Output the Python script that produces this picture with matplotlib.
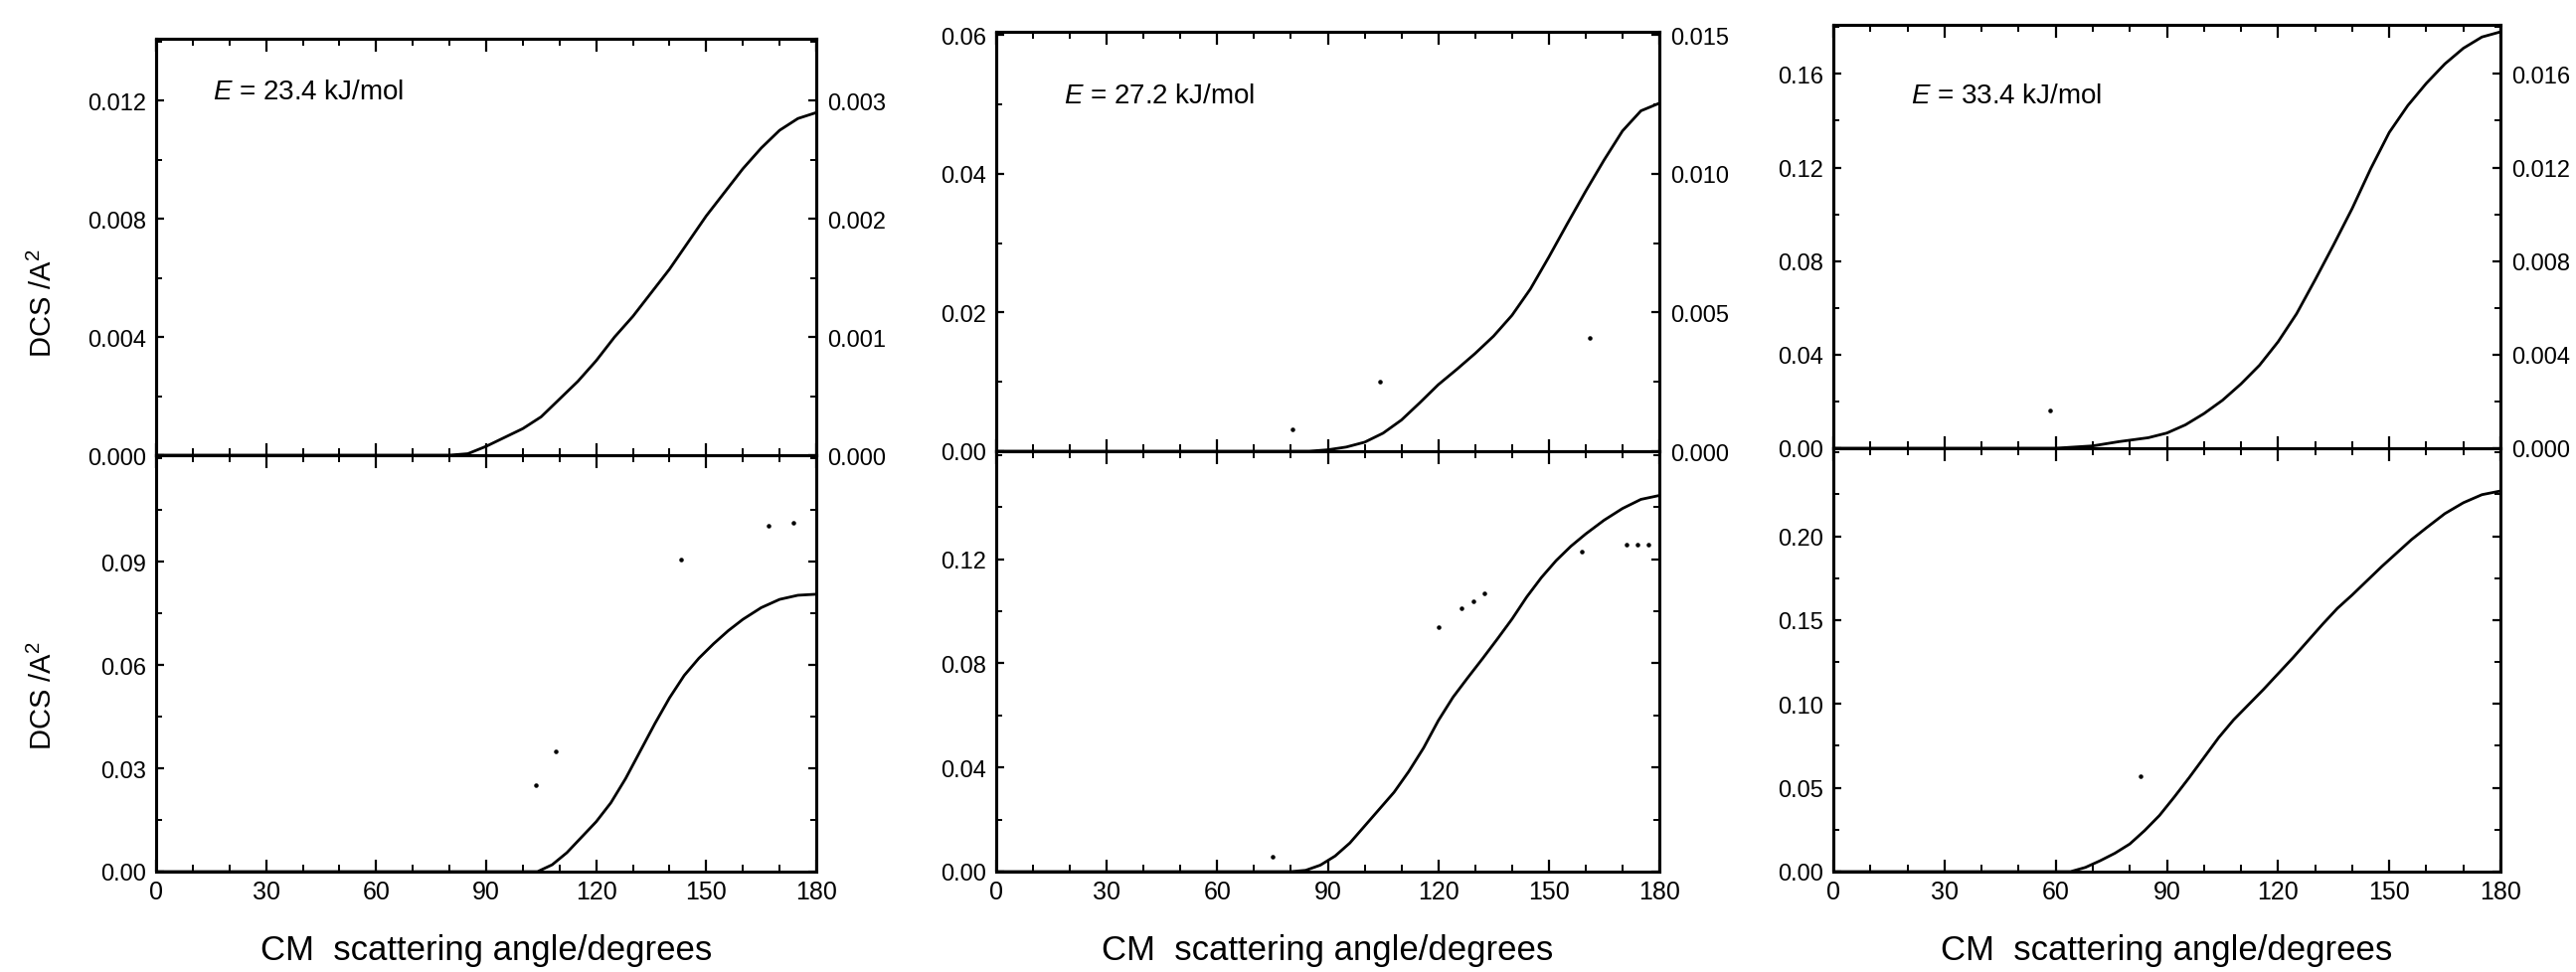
import matplotlib
matplotlib.use("Agg")
import matplotlib.pyplot as plt
from matplotlib.ticker import FixedLocator, MultipleLocator, FuncFormatter

# ---------------- data ----------------
energies = ["23.4", "27.2", "33.4"]

# E = 23.4 kJ/mol
ang_a_top = [0, 80, 85, 90, 95, 100, 105, 110, 115, 120, 125, 130, 135, 140, 145,
             150, 155, 160, 165, 170, 175, 180]
dcs_a_top = [0, 0, 0.00005, 0.0003, 0.0006, 0.0009, 0.0013, 0.0019, 0.0025, 0.0032,
             0.0040, 0.0047, 0.0055, 0.0063, 0.0072, 0.0081, 0.0089, 0.0097, 0.0104,
             0.0110, 0.0114, 0.0116]
ang_a_bot = [0, 104, 108, 112, 116, 120, 124, 128, 132, 136, 140, 144, 148, 152, 156,
             160, 165, 170, 175, 180]
dcs_a_bot = [0, 0, 0.002, 0.0055, 0.0100, 0.0145, 0.0200, 0.0270, 0.0350, 0.0430,
             0.0505, 0.0570, 0.0620, 0.0662, 0.0700, 0.0733, 0.0767, 0.0791, 0.0803,
             0.0806]
dots_a_bot_x = [103.6, 109, 143, 167, 173.7]
dots_a_bot_y = [0.025, 0.0348, 0.0907, 0.1005, 0.1015]

# E = 27.2 kJ/mol
ang_b_top = [0, 85, 90, 95, 100, 105, 110, 115, 120, 125, 130, 135, 140, 145, 150,
             155, 160, 165, 170, 175, 180]
dcs_b_top = [0, 0, 0.0002, 0.0006, 0.0013, 0.0026, 0.0045, 0.0070, 0.0096, 0.0118,
             0.0141, 0.0166, 0.0196, 0.0234, 0.0280, 0.0328, 0.0375, 0.0420, 0.0462,
             0.0491, 0.0502]
dots_b_top_x = [80.4, 104.3, 161.2]
dots_b_top_y = [0.0031, 0.0100, 0.0164]
ang_b_bot = [0, 80, 84, 88, 92, 96, 100, 104, 108, 112, 116, 120, 124, 128, 132, 136,
             140, 144, 148, 152, 156, 160, 165, 170, 175, 180]
dcs_b_bot = [0, 0, 0.0005, 0.0025, 0.0060, 0.0110, 0.0175, 0.0240, 0.0305, 0.0385,
             0.0475, 0.0580, 0.0670, 0.0745, 0.0818, 0.0893, 0.0970, 0.1055, 0.1130,
             0.1195, 0.1250, 0.1297, 0.1350, 0.1395, 0.1430, 0.1445]
dots_b_bot_x = [75, 120, 126.3, 129.6, 132.6, 159, 171, 174, 177]
dots_b_bot_y = [0.0059, 0.094, 0.1013, 0.104, 0.107, 0.123, 0.1258, 0.1258, 0.1258]

# E = 33.4 kJ/mol
ang_c_top = [0, 60, 70, 77, 85, 90, 95, 100, 105, 110, 115, 120, 125, 130, 135, 140,
             145, 150, 155, 160, 165, 170, 175, 180]
dcs_c_top = [0, 0, 0.0010, 0.0028, 0.0045, 0.0065, 0.0100, 0.0148, 0.0205, 0.0275,
             0.0355, 0.0455, 0.0575, 0.0720, 0.0870, 0.1025, 0.1195, 0.1350, 0.1465,
             0.1560, 0.1643, 0.1710, 0.1758, 0.1780]
dots_c_top_x = [58.4]
dots_c_top_y = [0.0163]
ang_c_bot = [0, 64, 68, 72, 76, 80, 84, 88, 92, 96, 100, 104, 108, 112, 116, 120, 124,
             128, 132, 136, 140, 144, 148, 152, 156, 160, 165, 170, 175, 180]
dcs_c_bot = [0, 0, 0.0025, 0.0065, 0.0110, 0.0165, 0.0245, 0.0335, 0.0445, 0.0560,
             0.0680, 0.0800, 0.0905, 0.0995, 0.1085, 0.1180, 0.1275, 0.1375, 0.1475,
             0.1570, 0.1650, 0.1735, 0.1820, 0.1900, 0.1980, 0.2050, 0.2135, 0.2200,
             0.2248, 0.2270]
dots_c_bot_x = [83]
dots_c_bot_y = [0.0567]

x_ticks = [0, 30, 60, 90, 120, 150, 180]

top_left_ticks = [[0.0, 0.004, 0.008, 0.012], [0.0, 0.02, 0.04, 0.06],
                  [0.0, 0.04, 0.08, 0.12, 0.16]]
top_right_ticks = [[0.0, 0.001, 0.002, 0.003], [0.0, 0.005, 0.010, 0.015],
                   [0.0, 0.004, 0.008, 0.012, 0.016]]
bot_ticks = [[0.0, 0.03, 0.06, 0.09], [0.0, 0.04, 0.08, 0.12],
             [0.0, 0.05, 0.10, 0.15, 0.20]]
top_left_dec = [3, 2, 2]
top_right_dec = [3, 3, 3]
bot_dec = [2, 2, 2]
right_factor = [4, 4, 10]
top_ylim = [0.0141, 0.0605, 0.181]
bot_ylim = [0.121, 0.1615, 0.2525]

# ---------------- style ----------------
plt.rcParams["font.family"] = ["Liberation Sans", "DejaVu Sans"]
plt.rcParams["mathtext.fontset"] = "custom"
plt.rcParams["mathtext.rm"] = "Liberation Sans"
plt.rcParams["mathtext.it"] = "Liberation Sans:italic"

W, H = 2591, 979
fig = plt.figure(figsize=(W / 100, H / 100), dpi=100)

# pixel boxes: (left, right, top, divider, bottom)
boxes = [(157, 821, 40, 459, 878), (1002, 1669, 33, 455, 878), (1844, 2515, 26, 452, 878)]
etext_pos = [(0.086, 0.873), (0.102, 0.848), (0.116, 0.833)]

tops = [(ang_a_top, dcs_a_top), (ang_b_top, dcs_b_top), (ang_c_top, dcs_c_top)]
bots = [(ang_a_bot, dcs_a_bot), (ang_b_bot, dcs_b_bot), (ang_c_bot, dcs_c_bot)]
top_dots = [([], []), (dots_b_top_x, dots_b_top_y), (dots_c_top_x, dots_c_top_y)]
bot_dots = [(dots_a_bot_x, dots_a_bot_y), (dots_b_bot_x, dots_b_bot_y),
            (dots_c_bot_x, dots_c_bot_y)]

LW_SPINE = 2.2
TICK_FS = 17


def fmt(dec):
    return FuncFormatter(lambda v, p: f"{v:.{dec}f}")


def base_style(ax):
    for s in ax.spines.values():
        s.set_linewidth(LW_SPINE)
    ax.set_xlim(0, 180)
    ax.xaxis.set_major_locator(FixedLocator(x_ticks))
    ax.xaxis.set_minor_locator(MultipleLocator(10))
    ax.tick_params(which="major", direction="in", length=9, width=1.6,
                   labelsize=TICK_FS, top=True)
    ax.tick_params(which="minor", direction="in", length=5, width=1.4, top=True)
    ax.tick_params(axis="y", which="major", length=6, pad=7)
    ax.tick_params(axis="y", which="minor", length=4)
    ax.tick_params(axis="x", which="major", pad=8)


for i in range(3):
    l, r, t, d, b = boxes[i]
    x0 = l / W
    w = (r - l) / W
    ax_t = fig.add_axes([x0, 1 - d / H, w, (d - t) / H])
    ax_b = fig.add_axes([x0, 1 - b / H, w, (b - d) / H])

    # top panel
    base_style(ax_t)
    ax_t.plot(tops[i][0], tops[i][1], color="black", lw=2.0)
    if top_dots[i][0]:
        ax_t.scatter(top_dots[i][0], top_dots[i][1], s=5, color="black")
    ax_t.set_ylim(0, top_ylim[i])
    ax_t.yaxis.set_major_locator(FixedLocator(top_left_ticks[i]))
    step = top_left_ticks[i][1] - top_left_ticks[i][0]
    ax_t.yaxis.set_minor_locator(MultipleLocator(step / 2))
    ax_t.yaxis.set_major_formatter(fmt(top_left_dec[i]))
    ax_t.tick_params(axis="y", which="both", right=False)
    ax_t.tick_params(axis="x", labelbottom=False)
    ax_t.text(etext_pos[i][0], etext_pos[i][1], f"$E$ = {energies[i]} kJ/mol",
              transform=ax_t.transAxes, fontsize=20, ha="left", va="center")

    ax_r = ax_t.twinx()
    for s in ax_r.spines.values():
        s.set_linewidth(LW_SPINE)
    ax_r.set_ylim(0, top_ylim[i] / right_factor[i])
    ax_r.yaxis.set_major_locator(FixedLocator(top_right_ticks[i]))
    rstep = top_right_ticks[i][1] - top_right_ticks[i][0]
    ax_r.yaxis.set_minor_locator(MultipleLocator(rstep / 2))
    ax_r.yaxis.set_major_formatter(fmt(top_right_dec[i]))
    ax_r.tick_params(axis="y", which="major", direction="in", length=6, width=1.6,
                     labelsize=TICK_FS, pad=8)
    ax_r.tick_params(axis="y", which="minor", direction="in", length=4, width=1.4)

    # bottom panel
    base_style(ax_b)
    ax_b.plot(bots[i][0], bots[i][1], color="black", lw=2.0)
    ax_b.scatter(bot_dots[i][0], bot_dots[i][1], s=5, color="black")
    ax_b.set_ylim(0, bot_ylim[i])
    ax_b.yaxis.set_major_locator(FixedLocator(bot_ticks[i]))
    bstep = bot_ticks[i][1] - bot_ticks[i][0]
    ax_b.yaxis.set_minor_locator(MultipleLocator(bstep / 2))
    ax_b.yaxis.set_major_formatter(fmt(bot_dec[i]))
    ax_b.tick_params(axis="y", which="both", right=True)
    ax_b.tick_params(axis="x", which="major", labelsize=18, pad=6)

    fig.text((l + r) / 2 / W, 1 - 957 / H, "CM  scattering angle/degrees",
             fontsize=25, ha="center", va="center")

fig.text(43 / W, 1 - 305 / H, "DCS /A$^2$", rotation=90, fontsize=21,
         ha="center", va="center")
fig.text(43 / W, 1 - 700 / H, "DCS /A$^2$", rotation=90, fontsize=21,
         ha="center", va="center")

fig.savefig("out.png", dpi=100)
